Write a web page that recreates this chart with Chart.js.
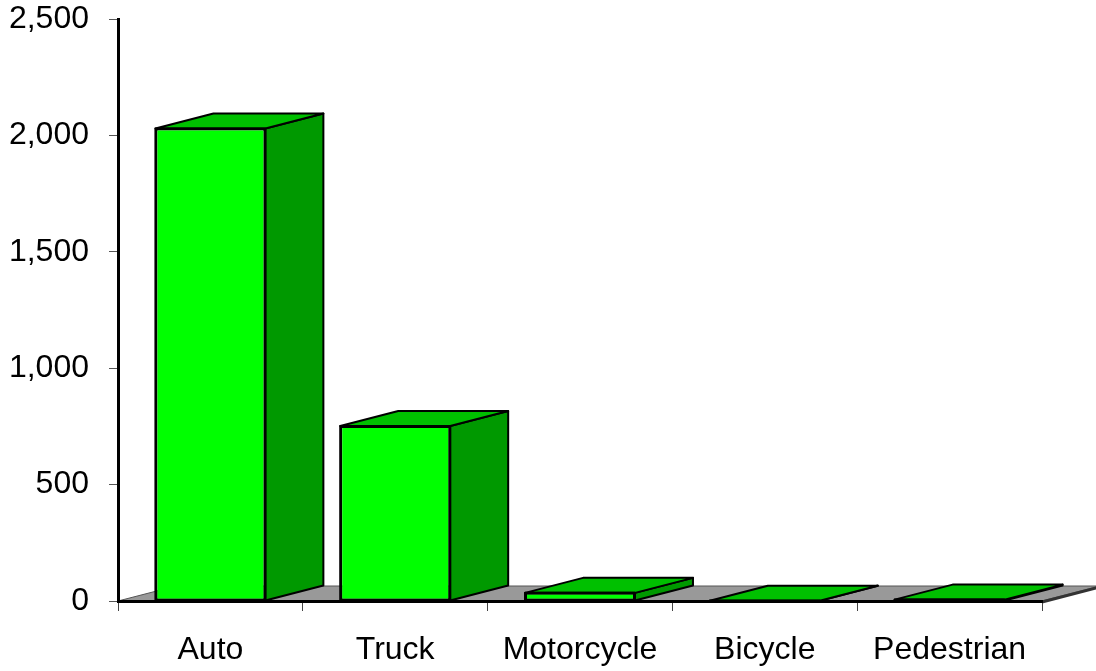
<!DOCTYPE html>
<html>
<head>
<meta charset="utf-8">
<script src="https://cdn.jsdelivr.net/npm/chart.js@4/dist/chart.umd.min.js"></script>
<style>
	html, body { margin: 0; padding: 0; background: #ffffff; }
	#grafica-wrap { width: 1096px; height: 671px; }
</style>
</head>
<body>
<div id="grafica-wrap"><canvas id="grafica"></canvas></div>
<script>
// datos
var categorias = ["Auto", "Truck", "Motorcycle", "Bicycle", "Pedestrian"];
var valores = [2030, 752, 35, 1, 6];
var ticks_y = [0, 500, 1000, 1500, 2000, 2500];

// colores y profundidad del efecto 3D
var color_frente = "#00ff00";
var color_arriba = "#00c000";
var color_lado = "#009900";
var color_suelo = "#999999";
var prof_x = 58;
var prof_y = -15;

/*******************************************************************************
 * Plugin 3D: suelo gris, cara superior y lateral de cada barra
 *******************************************************************************/
var plugin3d = {
	id: 'barras3d',
	beforeDraw: function (chart)
	{
		var ctx = chart.ctx;
		var x = chart.scales.x;
		var y0 = chart.scales.y.getPixelForValue(0);
		var izq = x.left;
		var der = x.right;

		ctx.save();
		ctx.beginPath();
		ctx.moveTo(izq, y0);
		ctx.lineTo(der, y0);
		ctx.lineTo(der + prof_x, y0 + prof_y);
		ctx.lineTo(izq + prof_x, y0 + prof_y);
		ctx.closePath();
		ctx.fillStyle = color_suelo;
		ctx.fill();
		ctx.lineWidth = 1;
		ctx.strokeStyle = "#555555";
		ctx.stroke();

		// borde derecho del suelo
		ctx.beginPath();
		ctx.moveTo(der, y0 + 1);
		ctx.lineTo(der + prof_x, y0 + prof_y + 1);
		ctx.lineWidth = 3;
		ctx.strokeStyle = "#333333";
		ctx.stroke();
		ctx.restore();
	},
	afterDatasetsDraw: function (chart)
	{
		var ctx = chart.ctx;
		var meta = chart.getDatasetMeta(0);

		ctx.save();
		ctx.lineWidth = 2;
		ctx.lineJoin = "round";
		ctx.strokeStyle = "#000000";
		meta.data.forEach(function (barra)
		{
			var p = barra.getProps(['x', 'y', 'base', 'width'], true);
			var izq = p.x - p.width / 2;
			var der = p.x + p.width / 2;
			var arriba = p.y;
			var abajo = p.base;

			// lado
			ctx.beginPath();
			ctx.moveTo(der, arriba);
			ctx.lineTo(der + prof_x, arriba + prof_y);
			ctx.lineTo(der + prof_x, abajo + prof_y);
			ctx.lineTo(der, abajo);
			ctx.closePath();
			ctx.fillStyle = color_lado;
			ctx.fill();
			ctx.stroke();

			// tapa
			ctx.beginPath();
			ctx.moveTo(izq, arriba);
			ctx.lineTo(izq + prof_x, arriba + prof_y);
			ctx.lineTo(der + prof_x, arriba + prof_y);
			ctx.lineTo(der, arriba);
			ctx.closePath();
			ctx.fillStyle = color_arriba;
			ctx.fill();
			ctx.stroke();

			// frente (se repasa el borde)
			ctx.strokeRect(izq, arriba, p.width, abajo - arriba);
		});
		ctx.restore();
	}
};

/*******************************************************************************
 * Grafica
 *******************************************************************************/
var fuente = { family: "'Liberation Sans', Arial, sans-serif", size: 32 };

var grafica = new Chart(document.getElementById('grafica').getContext('2d'), {
	type: 'bar',
	data: {
		labels: categorias,
		datasets: [{
			data: valores,
			backgroundColor: color_frente,
			borderColor: "#000000",
			borderWidth: 2,
			borderSkipped: false,
			categoryPercentage: 1,
			barPercentage: 0.595
		}]
	},
	options: {
		responsive: true,
		maintainAspectRatio: false,
		animation: false,
		layout: {
			padding: { left: 0, right: 54, top: 0, bottom: 0 }
		},
		plugins: {
			legend: { display: false },
			tooltip: { enabled: false }
		},
		scales: {
			x: {
				afterFit: function (scale) { scale.height = 70; },
				grid: {
					offset: true,
					drawOnChartArea: false,
					tickLength: 10,
					color: "#444444",
					lineWidth: 1
				},
				border: { color: "#000000", width: 3 },
				ticks: { color: "#000000", font: fuente, padding: 20 }
			},
			y: {
				min: 0,
				max: 2500,
				afterFit: function (scale) {
					scale.width = 118;
					scale.paddingTop = 19;
					scale.paddingBottom = 0;
				},
				afterBuildTicks: function (scale) {
					scale.ticks = ticks_y.map(function (v) { return { value: v }; });
				},
				grid: {
					drawOnChartArea: false,
					tickLength: 9,
					color: "#555555",
					lineWidth: 1
				},
				border: { color: "#000000", width: 3 },
				ticks: {
					color: "#000000",
					font: fuente,
					padding: 20,
					callback: function (v) { return v.toLocaleString('en-US'); }
				}
			}
		}
	},
	plugins: [plugin3d]
});
</script>
</body>
</html>
